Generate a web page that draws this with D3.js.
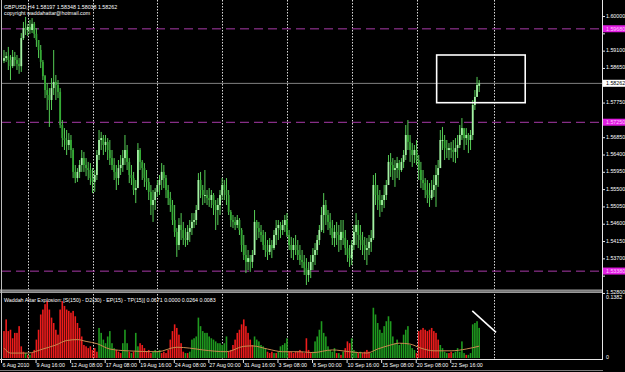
<!DOCTYPE html>
<html><head><meta charset="utf-8">
<script src="https://cdn.jsdelivr.net/npm/d3@7"></script>
<style>body{margin:0;background:#000;overflow:hidden}svg{display:block}text{font-family:"Liberation Sans",Arial,sans-serif}</style>
</head><body>
<svg id="c" width="625" height="372"></svg>
<script>
// ---------- DATA (GBPUSD H4) ----------
const highs = [
1.5913,1.5908,1.5921,1.5900,1.5913,1.5908,1.5900,1.5892,1.5957,1.5986,
1.5999,1.5981,1.5991,1.5996,1.5986,1.5970,1.5939,1.5926,1.5887,1.5848,
1.5827,1.5814,1.5840,1.5913,1.5848,1.5835,1.5814,1.5731,1.5710,1.5705,
1.5697,1.5692,1.5658,1.5614,1.5606,1.5627,1.5653,1.5648,1.5632,1.5622,
1.5619,1.5606,1.5601,1.5653,1.5705,1.5700,1.5692,1.5692,1.5684,1.5679,
1.5653,1.5632,1.5614,1.5627,1.5640,1.5653,1.5692,1.5666,1.5632,1.5614,
1.5596,1.5575,1.5671,1.5658,1.5627,1.5619,1.5601,1.5580,1.5562,1.5549,
1.5554,1.5575,1.5588,1.5619,1.5614,1.5588,1.5562,1.5544,1.5523,1.5510,
1.5450,1.5476,1.5489,1.5466,1.5450,1.5458,1.5471,1.5489,1.5489,1.5510,
1.5593,1.5596,1.5562,1.5601,1.5549,1.5554,1.5549,1.5541,1.5523,1.5528,
1.5549,1.5580,1.5575,1.5580,1.5549,1.5497,1.5484,1.5479,1.5484,1.5476,
1.5450,1.5432,1.5406,1.5393,1.5380,1.5393,1.5497,1.5471,1.5466,1.5458,
1.5445,1.5440,1.5419,1.5424,1.5419,1.5445,1.5471,1.5471,1.5466,1.5471,
1.5484,1.5489,1.5445,1.5427,1.5424,1.5432,1.5419,1.5406,1.5393,1.5380,
1.5372,1.5362,1.5380,1.5398,1.5411,1.5432,1.5458,1.5505,1.5541,1.5523,
1.5497,1.5489,1.5471,1.5458,1.5466,1.5458,1.5471,1.5471,1.5445,1.5419,
1.5406,1.5419,1.5458,1.5489,1.5471,1.5458,1.5440,1.5427,1.5424,1.5432,
1.5445,1.5588,1.5593,1.5562,1.5549,1.5536,1.5562,1.5575,1.5640,1.5645,
1.5632,1.5627,1.5635,1.5627,1.5632,1.5653,1.5718,1.5731,1.5692,1.5671,
1.5666,1.5679,1.5640,1.5622,1.5601,1.5580,1.5575,1.5567,1.5575,1.5588,
1.5614,1.5627,1.5705,1.5713,1.5692,1.5679,1.5671,1.5674,1.5679,1.5684,
1.5692,1.5718,1.5736,1.5705,1.5710,1.5697,1.5705,1.5783,1.5809,1.5843,1.58348];
const lows = [
1.5879,1.5882,1.5861,1.5835,1.5866,1.5871,1.5861,1.5851,1.5856,1.5939,
1.5952,1.5949,1.5955,1.5957,1.5944,1.5921,1.5892,1.5866,1.5835,1.5788,
1.5757,1.5713,1.5757,1.5796,1.5783,1.5788,1.5710,1.5661,1.5653,1.5640,
1.5653,1.5632,1.5580,1.5567,1.5570,1.5580,1.5596,1.5596,1.5585,1.5575,
1.5562,1.5541,1.5544,1.5575,1.5627,1.5653,1.5640,1.5648,1.5627,1.5614,
1.5601,1.5575,1.5549,1.5562,1.5588,1.5596,1.5614,1.5601,1.5567,1.5562,
1.5536,1.5515,1.5562,1.5601,1.5575,1.5557,1.5549,1.5523,1.5484,1.5466,
1.5497,1.5531,1.5536,1.5549,1.5554,1.5528,1.5510,1.5492,1.5458,1.5427,
1.5375,1.5393,1.5419,1.5406,1.5401,1.5406,1.5414,1.5432,1.5450,1.5458,
1.5497,1.5528,1.5510,1.5515,1.5510,1.5505,1.5502,1.5484,1.5445,1.5458,
1.5484,1.5523,1.5523,1.5510,1.5484,1.5453,1.5450,1.5445,1.5450,1.5432,
1.5388,1.5367,1.5333,1.5341,1.5336,1.5346,1.5380,1.5419,1.5424,1.5414,
1.5393,1.5375,1.5367,1.5380,1.5372,1.5393,1.5406,1.5419,1.5424,1.5432,
1.5440,1.5427,1.5393,1.5372,1.5367,1.5380,1.5367,1.5354,1.5346,1.5328,
1.5302,1.5310,1.5320,1.5341,1.5354,1.5380,1.5406,1.5440,1.5437,1.5458,
1.5445,1.5432,1.5406,1.5401,1.5406,1.5388,1.5393,1.5406,1.5380,1.5362,
1.5349,1.5354,1.5393,1.5406,1.5398,1.5393,1.5380,1.5367,1.5354,1.5380,
1.5388,1.5419,1.5510,1.5497,1.5479,1.5492,1.5502,1.5523,1.5562,1.5583,
1.5575,1.5557,1.5580,1.5575,1.5596,1.5606,1.5627,1.5653,1.5622,1.5609,
1.5619,1.5614,1.5575,1.5554,1.5549,1.5528,1.5515,1.5505,1.5523,1.5531,
1.5505,1.5557,1.5614,1.5653,1.5627,1.5632,1.5627,1.5632,1.5622,1.5619,
1.5632,1.5658,1.5679,1.5653,1.5666,1.5645,1.5653,1.5679,1.5757,1.5791,1.58038];
const closes = [
1.5892,1.5897,1.5887,1.5871,1.5895,1.5887,1.5877,1.5871,1.5944,1.5970,
1.5965,1.5973,1.5965,1.5981,1.5955,1.5939,1.5913,1.5882,1.5845,1.5809,
1.5796,1.5783,1.5814,1.5830,1.5822,1.5804,1.5718,1.5684,1.5679,1.5666,
1.5679,1.5653,1.5596,1.5580,1.5596,1.5614,1.5632,1.5614,1.5606,1.5601,
1.5580,1.5570,1.5588,1.5640,1.5679,1.5684,1.5666,1.5674,1.5653,1.5632,
1.5614,1.5596,1.5580,1.5606,1.5614,1.5632,1.5653,1.5622,1.5588,1.5580,
1.5549,1.5554,1.5653,1.5622,1.5606,1.5580,1.5570,1.5544,1.5510,1.5523,
1.5544,1.5562,1.5575,1.5596,1.5580,1.5549,1.5528,1.5510,1.5471,1.5440,
1.5406,1.5458,1.5445,1.5424,1.5419,1.5440,1.5450,1.5466,1.5471,1.5497,
1.5575,1.5549,1.5536,1.5536,1.5528,1.5523,1.5536,1.5510,1.5497,1.5510,
1.5536,1.5562,1.5549,1.5536,1.5492,1.5471,1.5466,1.5458,1.5471,1.5445,
1.5406,1.5380,1.5362,1.5372,1.5362,1.5380,1.5466,1.5450,1.5440,1.5432,
1.5406,1.5393,1.5388,1.5406,1.5398,1.5432,1.5450,1.5458,1.5445,1.5458,
1.5471,1.5432,1.5406,1.5393,1.5406,1.5393,1.5380,1.5367,1.5362,1.5346,
1.5328,1.5341,1.5362,1.5380,1.5393,1.5419,1.5445,1.5484,1.5510,1.5484,
1.5466,1.5450,1.5424,1.5440,1.5432,1.5419,1.5440,1.5424,1.5398,1.5380,
1.5372,1.5406,1.5440,1.5458,1.5432,1.5419,1.5406,1.5393,1.5398,1.5414,
1.5424,1.5562,1.5536,1.5523,1.5510,1.5523,1.5536,1.5562,1.5622,1.5614,
1.5601,1.5606,1.5619,1.5601,1.5622,1.5640,1.5692,1.5674,1.5653,1.5640,
1.5653,1.5627,1.5601,1.5575,1.5567,1.5549,1.5536,1.5528,1.5549,1.5562,
1.5588,1.5606,1.5679,1.5679,1.5658,1.5653,1.5658,1.5653,1.5648,1.5658,
1.5666,1.5692,1.5710,1.5684,1.5692,1.5679,1.5692,1.5770,1.5791,1.5822,1.58262];
const firstOpen = 1.5885;   // opens follow the previous close (continuous FX feed)
const lastOpen = 1.58197;

// Waddah Attar Explosion histogram: + = green (trend up), - = red (trend down)
const waeHist = [
-0.060,-0.086,-0.060,-0.063,-0.044,-0.056,-0.056,-0.071,-0.026,-0.014,
0.011,-0.007,0.007,-0.011,-0.018,-0.041,-0.063,-0.097,-0.108,-0.120,
-0.127,-0.108,-0.090,-0.078,-0.063,-0.052,-0.108,-0.127,-0.116,-0.108,
-0.105,-0.101,-0.105,-0.093,-0.078,-0.067,-0.048,-0.029,-0.026,-0.022,
-0.026,-0.018,-0.022,-0.014,0.067,0.056,0.041,0.033,0.048,0.060,
0.033,0.022,-0.018,-0.014,-0.011,0.033,0.063,0.033,-0.014,0.011,
-0.014,0.056,0.026,-0.033,-0.029,-0.022,-0.014,-0.018,-0.011,0.014,
0.018,0.014,0.018,-0.011,-0.014,-0.011,-0.018,-0.041,-0.060,-0.075,
-0.067,-0.052,-0.033,-0.014,0.011,-0.011,0.014,0.041,0.044,0.048,
0.090,0.071,0.060,0.056,0.056,0.048,0.044,0.041,0.037,0.033,
0.033,0.029,0.033,0.048,-0.014,-0.018,-0.029,-0.041,-0.056,-0.063,
-0.075,-0.086,-0.071,-0.056,-0.041,-0.029,0.048,0.041,0.037,0.029,
0.026,0.022,-0.014,-0.011,-0.014,0.011,-0.011,0.014,0.026,0.029,
0.033,0.044,-0.014,-0.014,-0.011,-0.014,-0.014,-0.018,-0.014,-0.011,
-0.044,-0.018,-0.011,0.014,0.037,0.048,0.063,0.082,0.056,0.048,
0.026,0.018,0.014,0.022,-0.011,0.011,-0.007,0.014,-0.022,-0.037,
-0.033,0.044,0.018,0.014,-0.011,0.014,-0.011,-0.014,-0.018,-0.014,
0.011,0.112,0.097,0.078,0.063,0.056,0.071,0.082,0.093,0.082,
0.048,0.033,0.041,0.029,0.033,0.052,0.063,0.071,0.029,0.022,
0.018,-0.011,-0.060,-0.063,-0.067,-0.063,-0.060,-0.063,-0.067,-0.060,
-0.056,-0.041,0.029,0.022,0.014,0.011,-0.011,-0.014,0.011,0.014,
0.022,0.014,0.037,0.011,-0.007,0.007,0.011,0.075,0.078,0.082,0.0671];
// Explosion line readings (bar index, value)
const explosionIdx = [0,3,11,18,24,29,34,38,43,49,57,71,80,86,92,103,111,115,122,129,137,143,152,160,168,173,179,183,188,193,199,207,214,220];
const explosionVal = [0.022,0.011,0.011,0.020,0.029,0.039,0.041,0.037,0.032,0.020,0.016,0.014,0.024,0.022,0.018,0.014,0.026,0.027,0.020,0.014,0.014,0.012,0.018,0.014,0.011,0.020,0.029,0.033,0.031,0.022,0.016,0.016,0.020,0.0264];

const priceTicks = [1.60000,1.59550,1.59100,1.58650,1.58200,1.57750,1.57300,1.56850,1.56400,1.55950,1.55500,1.55050,1.54600,1.54150,1.53700,1.53250,1.52800];
const timeLabelIdx = [0,16,32,48,64,80,96,112,128,144,160,176,192,208];
const timeLabels = ["6 Aug 2010","9 Aug 16:00","12 Aug 08:00","17 Aug 08:00","19 Aug 16:00","24 Aug 08:00","27 Aug 00:00","31 Aug 16:00","3 Sep 08:00","8 Sep 00:00","10 Sep 16:00","15 Sep 08:00","20 Sep 08:00","22 Sep 16:00"];
const gridIdx = [11,41,71,101,131,161,191,227];
const levelPrices = [1.59680,1.57250,1.53380];
const bidPrice = 1.58262;
const waeMax = 0.1382;
const boxIdx = [200.3,241.3], boxPrice = [1.5900,1.5776];
const trendIdx = [216.8,227.8], trendVal = [0.105,0.057];
const headerText = "GBPUSD,H4  1.58197 1.58348 1.58038 1.58262";
const copyrightText = "copyright waddahattar@hotmail.com";
const waeTitle = "Waddah Attar Explosion: [S(150) - D2(30) - EP(15) - TP(15)] 0.0671 0.0000 0.0264 0.0083";

// ---------- DRAW ----------
const svg = d3.select("#c");
const FS = 5.3;
const x = d3.scaleLinear().domain([0,220]).range([4,479.2]);
const y = d3.scaleLinear().domain([1.52916,1.60352]).range([289,3]);
const yi = d3.scaleLinear().domain([0,waeMax]).range([358,296]);
const opens = closes.map((c,i)=> i===0 ? firstOpen : (i===closes.length-1 ? lastOpen : closes[i-1]));

svg.append("rect").attr("width",625).attr("height",372).attr("fill","#000");
svg.append("defs").html('<clipPath id="mc"><rect x="2" y="2" width="600" height="287"/></clipPath><clipPath id="ic"><rect x="2" y="293" width="600" height="66"/></clipPath>');

// vertical grid
svg.append("g").selectAll("line").data(gridIdx).join("line")
  .attr("x1",d=>Math.round(x(d))+0.5).attr("x2",d=>Math.round(x(d))+0.5)
  .attr("y1",0).attr("y2",359).attr("stroke","#d8d8d8").attr("stroke-width",1).attr("stroke-dasharray","1.5,1.5");

const main = svg.append("g").attr("clip-path","url(#mc)");
main.selectAll("line.lv").data(levelPrices).join("line").attr("class","lv")
  .attr("x1",2).attr("x2",602).attr("y1",d=>y(d)).attr("y2",d=>y(d))
  .attr("stroke","#a83aa8").attr("stroke-width",1).attr("stroke-dasharray","9,5");
main.append("line").attr("x1",2).attr("x2",602).attr("y1",y(bidPrice)).attr("y2",y(bidPrice))
  .attr("stroke","#808080").attr("stroke-width",1);
const cg = main.append("g");
cg.selectAll("line.w").data(closes).join("line").attr("class","w")
  .attr("x1",(d,i)=>x(i)).attr("x2",(d,i)=>x(i))
  .attr("y1",(d,i)=>y(highs[i])).attr("y2",(d,i)=>y(lows[i]))
  .attr("stroke","#55cc55").attr("stroke-width",1);
cg.selectAll("rect").data(closes).join("rect")
  .attr("x",(d,i)=>x(i)-0.9).attr("width",1.8)
  .attr("y",(d,i)=>Math.min(y(opens[i]),y(d)))
  .attr("height",(d,i)=>Math.max(1,Math.abs(y(opens[i])-y(d))))
  .attr("fill",(d,i)=> d>=opens[i] ? "#a4f2a4" : "#34aa34");
main.append("rect").attr("x",x(boxIdx[0])).attr("y",y(boxPrice[0]))
  .attr("width",x(boxIdx[1])-x(boxIdx[0])).attr("height",y(boxPrice[1])-y(boxPrice[0]))
  .attr("fill","none").attr("stroke","#fff").attr("stroke-width",1.6);

svg.append("text").attr("x",4).attr("y",8.5).attr("fill","#fff").attr("font-size",FS).text(headerText);
svg.append("text").attr("x",4).attr("y",14.5).attr("fill","#fff").attr("font-size",FS).text(copyrightText);

// separator
svg.append("rect").attr("x",0).attr("y",289.5).attr("width",603).attr("height",3.5).attr("fill","#9a9a9a");
svg.append("line").attr("x1",0).attr("x2",603).attr("y1",291.2).attr("y2",291.2).attr("stroke","#5a5a5a").attr("stroke-width",0.8);

// indicator
const ind = svg.append("g").attr("clip-path","url(#ic)");
ind.selectAll("rect").data(waeHist).join("rect")
  .attr("x",(d,i)=>x(i)-0.8).attr("width",1.6)
  .attr("y",d=>yi(Math.abs(d))).attr("height",d=>yi(0)-yi(Math.abs(d)))
  .attr("fill",d=> d>=0 ? "#1f9a1f" : "#ee1c1c");
const expl = explosionIdx.map((k,j)=>[k,explosionVal[j]]);
ind.append("path").datum(expl)
  .attr("d",d3.line().x(d=>x(d[0])).y(d=>yi(d[1])).curve(d3.curveMonotoneX))
  .attr("fill","none").attr("stroke","#c98a50").attr("stroke-width",1);
ind.append("line").attr("x1",x(trendIdx[0])).attr("y1",yi(trendVal[0])).attr("x2",x(trendIdx[1])).attr("y2",yi(trendVal[1]))
  .attr("stroke","#fff").attr("stroke-width",1.6);
svg.append("text").attr("x",4).attr("y",301.5).attr("fill","#fff").attr("font-size",FS).text(waeTitle);

// frame lines
svg.append("line").attr("x1",1.5).attr("x2",1.5).attr("y1",0).attr("y2",360).attr("stroke","#bdbdbd");
svg.append("line").attr("x1",602.5).attr("x2",602.5).attr("y1",0).attr("y2",360).attr("stroke","#e6e6e6");
svg.append("line").attr("x1",0).attr("x2",603).attr("y1",359.5).attr("y2",359.5).attr("stroke","#e6e6e6");
svg.append("line").attr("x1",0).attr("x2",603).attr("y1",370.5).attr("y2",370.5).attr("stroke","#7a7a7a");

// price axis (tick labels hidden where a price tag covers them, as in the terminal)
const tagPrices = levelPrices.concat([bidPrice]);
const visibleTicks = priceTicks.filter(p => tagPrices.every(t => Math.abs(y(p)-y(t)) > 6.5));
const pa = svg.append("g");
pa.selectAll("line").data(priceTicks).join("line")
  .attr("x1",602).attr("x2",605).attr("y1",d=>y(d)).attr("y2",d=>y(d)).attr("stroke","#e6e6e6");
pa.selectAll("text").data(visibleTicks).join("text")
  .attr("x",606).attr("y",d=>y(d)+1).attr("fill","#fff").attr("font-size",FS)
  .text(d=>d.toFixed(5));
const lvl = svg.append("g");
lvl.selectAll("rect").data(levelPrices).join("rect")
  .attr("x",603).attr("y",d=>y(d)-3.6).attr("width",22).attr("height",7).attr("fill","#e21ee2");
lvl.selectAll("text").data(levelPrices).join("text")
  .attr("x",606).attr("y",d=>y(d)+2).attr("fill","#ffc8ff").attr("font-size",FS).text(d=>d.toFixed(5));
svg.append("rect").attr("x",603).attr("y",y(bidPrice)-3.6).attr("width",22).attr("height",7).attr("fill","#fff");
svg.append("text").attr("x",606).attr("y",y(bidPrice)+2).attr("fill","#000").attr("font-size",FS).text(bidPrice.toFixed(5));
svg.append("text").attr("x",606).attr("y",299.3).attr("fill","#fff").attr("font-size",FS).text(waeMax.toFixed(4));
svg.append("text").attr("x",606).attr("y",358.6).attr("fill","#fff").attr("font-size",FS).text("0");

// time axis
const ta = svg.append("g");
ta.selectAll("line").data(timeLabelIdx).join("line")
  .attr("x1",d=>x(d)-2.5).attr("x2",d=>x(d)-2.5).attr("y1",360).attr("y2",363).attr("stroke","#e6e6e6");
ta.selectAll("text").data(timeLabelIdx).join("text")
  .attr("x",d=>Math.max(2.5,x(d)-2)).attr("y",367.3).attr("fill","#fff").attr("font-size",FS)
  .text((d,j)=>timeLabels[j]);
</script>
</body></html>
